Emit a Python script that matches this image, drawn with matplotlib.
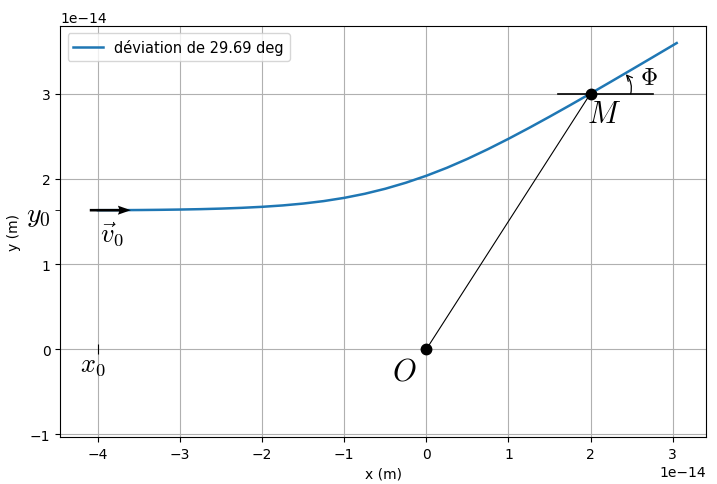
import numpy as np
import matplotlib
matplotlib.use("Agg")
import matplotlib.pyplot as plt

plt.rcParams['mathtext.fontset'] = 'cm'

s = 1e-14
# trajectory (units of 1e-14 m)
traj_x = [-4.0, -3.75, -3.5, -3.25, -3.0, -2.75, -2.5, -2.25, -2.0, -1.75, -1.5, -1.25,
          -1.0, -0.75, -0.5, -0.25, 0.0, 0.25, 0.5, 0.75, 1.0, 1.25, 1.5, 1.75,
          2.0, 2.25, 2.5, 2.75, 3.0, 3.05]
traj_y = [1.633, 1.6335, 1.635, 1.6374, 1.6407, 1.6453, 1.6518, 1.6607, 1.6727, 1.689, 1.7109, 1.74,
          1.7779, 1.8258, 1.8849, 1.9555, 2.0374, 2.1308, 2.2354, 2.3495, 2.4711, 2.5986, 2.7305, 2.8656,
          3.0032, 3.1427, 3.2835, 3.4251, 3.5674, 3.5959]
x0, y0 = -4.0, 1.633
Mx, My = 2.0, 3.003
deviation = 29.69

fig, ax = plt.subplots(figsize=(7.17, 4.85), dpi=100)
fig.subplots_adjust(left=0.084, right=0.985, bottom=0.097, top=0.945)

ax.plot(np.array(traj_x) * s, np.array(traj_y) * s, color='#1f77b4', lw=1.8,
        label='déviation de %.2f deg' % deviation, zorder=3)

# initial velocity arrow
ax.quiver([-4.1 * s], [y0 * s], [0.5 * s], [0], angles='xy', scale_units='xy', scale=1,
          color='black', width=0.004, headwidth=3.5, headlength=5, headaxislength=4.5, zorder=4)

# O and M
ax.plot([0, Mx * s], [0, My * s], color='black', lw=0.8, zorder=2)
ax.plot([0], [0], 'o', color='black', ms=7.5, zorder=5)
ax.plot([Mx * s], [My * s], 'o', color='black', ms=7.5, zorder=5)
ax.plot([1.61 * s, 2.76 * s], [My * s, My * s], color='black', lw=1.2, zorder=2)
ax.annotate('', xy=(2.43 * s, 3.23 * s), xytext=(2.49 * s, 3.0 * s),
            arrowprops=dict(arrowstyle='->', connectionstyle='arc3,rad=0.25', color='black', lw=0.9,
                            shrinkA=0, shrinkB=0))

# x0 marker
ax.plot([x0 * s], [0], marker='|', color='black', ms=7, mew=0.8)

ax.text(x0 * s - 0.06 * s, -0.17 * s, '$x_0$', fontsize=19, ha='center', va='center')
ax.text(-0.27 * s, -0.26 * s, '$O$', fontsize=22, ha='center', va='center')
ax.text(2.16 * s, 2.77 * s, '$M$', fontsize=22, ha='center', va='center')
ax.text(2.71 * s, 3.20 * s, r'$\Phi$', fontsize=17, ha='center', va='center')
ax.text(-3.83 * s, 1.35 * s, r'$\vec{v}_0$', fontsize=19, ha='center', va='center')

ax.set_xlim(-4.46 * s, 3.41 * s)
ax.set_ylim(-1.03 * s, 3.8 * s)
ax.set_yticks([-1 * s, 0, 1 * s, 2 * s, 3 * s])
ax.set_xticks([-4 * s, -3 * s, -2 * s, -1 * s, 0, 1 * s, 2 * s, 3 * s])
ax.set_yticks([y0 * s], minor=True)
ax.set_yticklabels(['$y_0$'], minor=True, fontsize=20)
ax.tick_params(axis='y', which='minor', length=3.5)
ax.grid(True, which='major')
ax.set_xlabel('x (m)')
ax.set_ylabel('y (m)')
ax.legend(loc='upper left', fontsize=10.5)

fig.savefig('out.png', dpi=100)
